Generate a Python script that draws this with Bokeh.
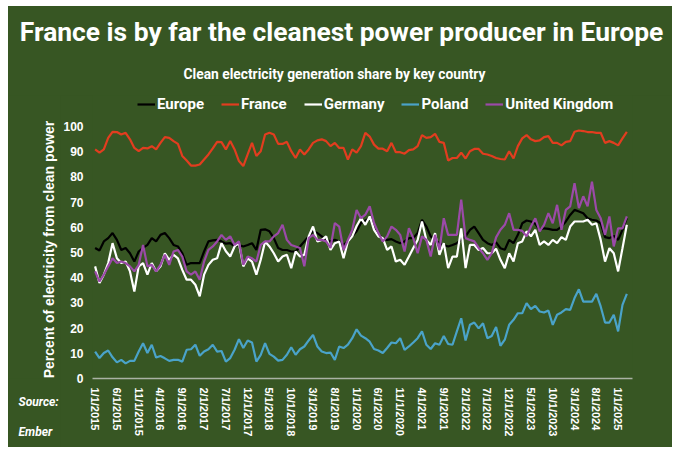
from math import pi

from bokeh.plotting import figure
from bokeh.layouts import column, row
from bokeh.models import ColumnDataSource, FixedTicker, Label, Legend, LegendItem, Title
from bokeh.embed import file_html
from bokeh.resources import INLINE

# monthly clean share (%), 1/1/2015 .. 3/1/2025
europe = [51.8, 50.8, 54.4, 55.7, 57.7, 55.0, 51.0, 51.8, 49.7, 46.4, 50.4, 51.8, 53.0, 55.7, 54.4, 57.0,
          57.7, 55.7, 53.0, 52.4, 49.7, 45.1, 45.8, 45.8, 45.8, 50.4, 54.4, 54.8, 55.0, 54.4, 53.5, 53.7,
          52.4, 53.0, 52.4, 53.0, 53.7, 51.0, 59.0, 59.2, 58.4, 55.7, 51.8, 51.0, 51.0, 50.4, 50.4, 52.4,
          54.4, 56.4, 58.4, 57.7, 56.4, 55.0, 54.4, 55.0, 54.4, 53.0, 54.4, 56.4, 58.4, 61.7, 62.7, 63.6,
          59.6, 57.0, 55.7, 55.0, 55.3, 54.4, 53.7, 54.4, 55.7, 55.7, 57.7, 63.0, 60.3, 56.4, 55.0, 53.7,
          53.0, 52.4, 53.0, 53.7, 55.0, 56.4, 59.0, 60.3, 57.7, 55.0, 53.7, 53.0, 54.0, 51.7, 51.1, 55.0,
          53.7, 57.0, 61.6, 62.7, 62.3, 61.4, 59.0, 59.6, 59.4, 59.0, 59.0, 60.3, 62.3, 64.9, 66.9, 66.3,
          65.6, 63.6, 63.0, 62.7, 61.6, 56.1, 55.7, 56.6, 55.0, 59.0, 63.6]
france = [90.9, 89.6, 90.9, 95.5, 97.9, 97.8, 96.8, 97.5, 94.9, 91.5, 90.2, 91.5, 91.3, 92.2, 90.9, 93.5,
          95.8, 95.5, 94.2, 93.1, 88.3, 86.5, 84.5, 84.5, 84.9, 86.9, 88.9, 91.3, 93.9, 93.8, 90.9, 94.2,
          90.9, 86.3, 84.3, 88.9, 93.5, 88.3, 90.2, 96.8, 97.5, 96.8, 93.1, 93.1, 93.9, 90.2, 87.5, 90.9,
          88.9, 90.9, 93.5, 94.5, 94.9, 94.2, 92.2, 93.5, 91.5, 91.5, 86.9, 90.9, 89.6, 92.2, 97.5, 96.0,
          92.8, 91.2, 91.2, 90.2, 93.5, 89.8, 89.8, 89.2, 90.6, 90.9, 92.2, 96.6, 95.5, 95.8, 97.1, 93.9,
          93.5, 86.5, 87.5, 87.5, 89.6, 87.3, 90.2, 91.1, 91.1, 89.2, 88.9, 88.3, 87.5, 87.1, 86.9, 90.2,
          87.3, 92.2, 95.3, 96.6, 94.9, 94.2, 94.5, 95.8, 96.2, 93.5, 93.5, 92.5, 93.9, 94.2, 97.9, 98.4,
          98.2, 97.8, 97.8, 97.5, 97.5, 93.5, 94.2, 93.5, 92.5, 95.3, 97.9]
germany = [44.5, 37.9, 41.2, 45.8, 53.7, 47.7, 45.8, 46.4, 42.5, 34.5, 44.5, 45.8, 41.2, 45.8, 42.5, 44.5,
           49.7, 47.1, 49.1, 47.7, 43.1, 39.2, 39.2, 37.2, 32.6, 41.2, 45.1, 47.1, 47.7, 53.7, 50.5, 48.4,
           52.4, 53.7, 44.5, 47.7, 46.4, 41.2, 47.1, 54.4, 52.4, 49.7, 46.4, 48.4, 49.1, 43.8, 50.4, 48.4,
           49.1, 56.4, 60.3, 54.4, 55.0, 56.4, 51.0, 53.7, 54.4, 47.7, 54.4, 56.4, 60.5, 63.6, 61.0, 64.3,
           59.0, 56.4, 55.7, 51.0, 52.4, 46.4, 47.1, 45.1, 48.4, 51.8, 55.0, 62.3, 55.0, 53.0, 57.7, 49.1,
           53.7, 43.8, 48.4, 48.4, 59.6, 43.8, 53.0, 53.0, 51.0, 51.8, 49.7, 49.7, 51.5, 47.1, 43.8, 49.7,
           46.4, 53.7, 54.4, 58.4, 56.4, 59.0, 53.0, 54.4, 53.0, 55.0, 53.7, 56.1, 55.0, 60.3, 62.3, 62.3,
           62.3, 63.0, 61.0, 61.6, 55.0, 46.4, 51.7, 49.7, 42.5, 51.7, 61.0]
poland = [10.7, 8.1, 10.1, 11.1, 8.4, 6.4, 7.4, 6.0, 7.0, 7.0, 10.7, 14.0, 10.1, 13.4, 8.3, 8.9,
          8.0, 7.0, 7.4, 7.4, 6.7, 11.4, 11.6, 13.4, 9.0, 10.7, 11.6, 13.4, 10.7, 10.9, 6.7, 8.1,
          11.4, 15.6, 12.1, 15.1, 14.3, 6.7, 9.4, 14.0, 9.8, 8.7, 7.1, 7.4, 9.4, 12.4, 9.4, 11.6,
          12.7, 15.1, 17.3, 12.7, 10.7, 10.1, 10.3, 7.4, 12.7, 12.1, 13.4, 16.0, 19.5, 17.0, 16.0, 14.6,
          11.7, 11.1, 10.1, 12.1, 14.3, 14.0, 16.0, 11.4, 12.7, 14.3, 16.0, 18.7, 13.4, 11.7, 14.0, 13.4,
          16.9, 13.7, 13.4, 18.7, 23.9, 15.1, 21.3, 22.2, 19.9, 21.9, 16.0, 16.9, 20.4, 13.0, 15.4, 21.3,
          23.3, 25.9, 25.9, 29.9, 27.5, 28.8, 26.6, 26.2, 27.0, 21.3, 25.3, 26.2, 27.5, 27.2, 31.9, 35.4,
          30.5, 30.5, 30.5, 33.6, 28.6, 22.2, 22.2, 25.3, 18.7, 29.2, 33.6]
uk = [42.5, 38.5, 41.2, 44.5, 47.7, 45.8, 46.4, 45.8, 44.5, 42.5, 45.1, 53.0, 44.5, 45.1, 42.5, 45.1,
      49.1, 45.1, 50.4, 51.0, 48.4, 42.5, 41.2, 42.5, 39.2, 46.4, 51.0, 52.4, 54.4, 57.0, 55.0, 56.4,
      53.0, 54.4, 45.1, 48.4, 47.7, 46.4, 53.0, 54.4, 54.4, 56.4, 57.7, 61.0, 55.0, 53.0, 52.4, 51.8,
      44.5, 55.7, 57.0, 55.0, 55.0, 54.4, 51.8, 61.7, 60.3, 51.0, 55.0, 59.0, 66.9, 63.6, 65.0, 68.3,
      61.7, 57.7, 54.4, 56.4, 60.3, 59.0, 57.0, 50.4, 59.6, 55.7, 49.7, 56.4, 55.0, 48.4, 57.0, 51.0,
      63.6, 57.0, 57.0, 57.0, 71.0, 55.7, 55.0, 54.4, 51.8, 49.7, 47.1, 49.7, 56.0, 59.0, 61.0, 65.6,
      59.0, 59.0, 58.6, 56.4, 60.3, 63.6, 58.4, 61.0, 65.6, 61.6, 68.9, 59.0, 66.9, 68.3, 77.5, 67.6,
      72.3, 68.3, 78.1, 66.9, 63.6, 57.0, 64.3, 52.4, 59.6, 59.6, 64.3]

tick_labels = ["1/1/2015", "6/1/2015", "11/1/2015", "4/1/2016", "9/1/2016", "2/1/2017", "7/1/2017",
               "12/1/2017", "5/1/2018", "10/1/2018", "3/1/2019", "8/1/2019", "1/1/2020", "6/1/2020",
               "11/1/2020", "4/1/2021", "9/1/2021", "2/1/2022", "7/1/2022", "12/1/2022", "5/1/2023",
               "10/1/2023", "3/1/2024", "8/1/2024", "1/1/2025"]

months = list(range(len(europe)))
BG = "#375623"
FONT = "Roboto"


def blank(width, height):
    # plain green panel used only for texts
    f = figure(width=width, height=height, output_backend="svg", toolbar_location=None,
               x_axis_location=None, y_axis_location=None, min_border=0,
               background_fill_color=BG, border_fill_color=BG, outline_line_color=None)
    f.grid.visible = False
    return f


def note(f, text, x, y, size, style="bold", align="center", font=FONT, angle=0):
    f.add_layout(Label(x=x, y=y, x_units="screen", y_units="screen", text=text, angle=angle,
                       text_align=align, text_baseline="middle", text_color="white",
                       text_font=font, text_font_style=style, text_font_size=size))


# header: title and subtitle
head = blank(664, 89)
note(head, "France is by far the cleanest power producer in Europe", 333, 64, "26.4px")
note(head, "Clean electricity generation share by key country", 326, 22, "13.8px")

# left strip: y axis title (inside its frame) and the source note (below it)
side = blank(52, 352)
note(side, "Percent of electricity from clean power", 40, 129, "14px",
     font="Liberation Sans", angle=pi / 2)
for txt, gap in [("Source:", 28), ("Ember", 0)]:
    side.add_layout(Title(text=txt, align="left", offset=10, standoff=gap, text_color="white",
                          text_font=FONT, text_font_style="bold italic", text_font_size="12px"),
                    "below")

source = ColumnDataSource(data=dict(x=months, europe=europe, france=france, germany=germany,
                                    poland=poland, uk=uk))

p = figure(width=612, height=352, output_backend="svg", toolbar_location=None,
           x_range=(-0.6, 123.3), y_range=(0, 112.3),
           min_border_left=30, min_border_right=40, min_border_top=0, min_border_bottom=69,
           background_fill_color=BG, border_fill_color=BG, outline_line_color=None)
p.grid.visible = False

series = [("Europe", "europe", "#000000"), ("France", "france", "#e23d1f"),
          ("Germany", "germany", "#ffffff"), ("Poland", "poland", "#4aa3c9"),
          ("United Kingdom", "uk", "#9b4aa8")]
items = []
for name, col, color in series:
    r = p.line("x", col, source=source, line_color=color, line_width=2.2)
    items.append(LegendItem(label=name, renderers=[r]))

# axes
p.yaxis.ticker = FixedTicker(ticks=list(range(0, 101, 10)))
p.yaxis.axis_line_color = None
p.yaxis.major_tick_line_color = None
p.yaxis.minor_tick_line_color = None
p.yaxis.major_tick_out = 0
p.yaxis.minor_tick_out = 0
p.yaxis.major_label_text_color = "white"
p.yaxis.major_label_text_font = "Liberation Sans"
p.yaxis.major_label_text_font_style = "bold"
p.yaxis.major_label_text_font_size = "12px"
p.yaxis.major_label_standoff = 9

tick_pos = list(range(0, len(tick_labels) * 5, 5))
p.xaxis.ticker = FixedTicker(ticks=tick_pos)
p.xaxis.major_label_overrides = {t: lab for t, lab in zip(tick_pos, tick_labels)}
p.xaxis.major_label_orientation = "vertical"
p.xaxis.major_tick_line_color = None
p.xaxis.minor_tick_line_color = None
p.xaxis.major_tick_out = 0
p.xaxis.minor_tick_out = 0
p.xaxis.axis_line_color = "#aab2a4"
p.xaxis.axis_line_width = 1.5
p.xaxis.major_label_text_color = "white"
p.xaxis.major_label_text_font = "Liberation Sans"
p.xaxis.major_label_text_font_style = "bold"
p.xaxis.major_label_text_font_size = "11px"
p.xaxis.major_label_standoff = 9

legend = Legend(items=items, location=(45, 265), orientation="horizontal",
                background_fill_alpha=0, border_line_alpha=0, padding=0, margin=0,
                spacing=17, glyph_width=18, glyph_height=16, label_height=16, label_standoff=2,
                label_text_color="white", label_text_font=FONT, label_text_font_style="bold",
                label_text_font_size="15px")
p.add_layout(legend)

layout = column(head, row(side, p, styles={"background-color": BG}),
                margin=(6, 0, 0, 8), styles={"background-color": BG})

open("out.html", "w").write(file_html(layout, INLINE))
